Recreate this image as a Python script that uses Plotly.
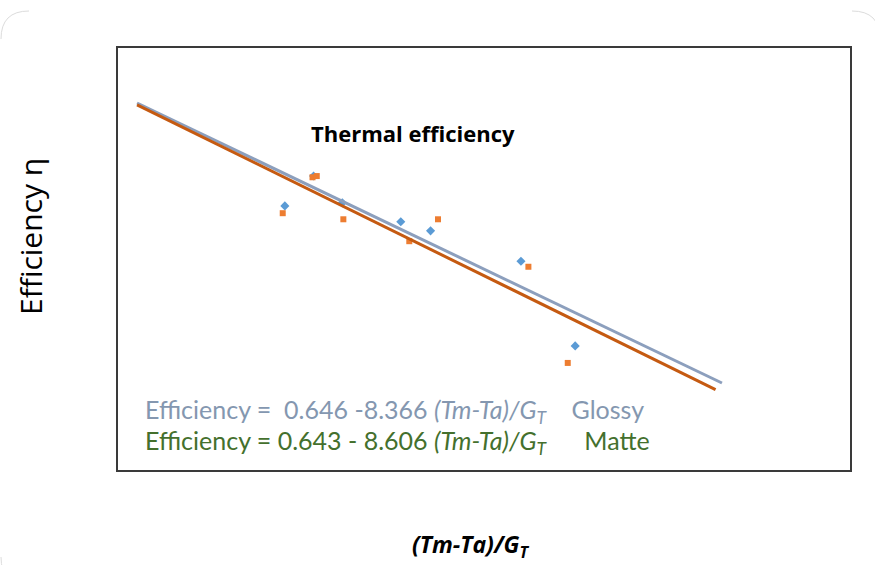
import plotly.graph_objects as go

# ---- data ----
glossy_x = [0.0139, 0.0166, 0.0193, 0.0248, 0.0276, 0.0361, 0.0412]
glossy_eff = [0.477, 0.526, 0.482, 0.451, 0.436, 0.386, 0.247]

matte_x = [0.0137, 0.0165, 0.0169, 0.0194, 0.0256, 0.0283, 0.0368, 0.0405]
matte_eff = [0.465, 0.524, 0.526, 0.455, 0.419, 0.455, 0.377, 0.219]

glossy_line_x = [0.0, 0.0550]
glossy_line_eff = [0.646, 0.186]
matte_line_x = [0.0, 0.0544]
matte_line_eff = [0.643, 0.175]

x_range = [-0.00179, 0.06704]
y_range = [0.0431, 0.7364]

W, H = 875, 565
L, R, T, B = 118, 850, 48, 470


def px(x):
    return (x - L) / (R - L)


def py(y):
    return (B - y) / (B - T)


fig = go.Figure()
fig.add_trace(go.Scatter(x=glossy_x, y=glossy_eff, mode="markers", name="Glossy",
                         marker=dict(symbol="diamond", size=7, color="#5B9BD5")))
fig.add_trace(go.Scatter(x=matte_x, y=matte_eff, mode="markers", name="Matte",
                         marker=dict(symbol="square", size=6, color="#ED7D31")))
fig.add_trace(go.Scatter(x=glossy_line_x, y=glossy_line_eff, mode="lines", name="Glossy fit",
                         line=dict(color="#8C9FBD", width=3)))
fig.add_trace(go.Scatter(x=matte_line_x, y=matte_line_eff, mode="lines", name="Matte fit",
                         line=dict(color="#C55A11", width=3)))

axis_common = dict(showgrid=False, zeroline=False, showticklabels=False, ticks="",
                   showline=True, linecolor="#3a3a3a", linewidth=1.5, mirror=True)
fig.update_xaxes(range=x_range, **axis_common)
fig.update_yaxes(range=y_range, **axis_common)

annotations = [
    dict(text="<b>Thermal efficiency</b>", x=px(413), y=py(133), xref="paper", yref="paper",
         showarrow=False, font=dict(family="Open Sans", size=22, color="#000000"),
         xanchor="center", yanchor="middle"),
    dict(text="Efficiency =\u00a0 0.646 -8.366 <i>(Tm-Ta)/G</i><sub><i>T</i></sub>\u00a0\u00a0\u00a0\u00a0Glossy",
         x=px(143), y=py(411), xref="paper", yref="paper", showarrow=False,
         font=dict(family="Lato", size=25, color="#8497B0"), xanchor="left", yanchor="middle"),
    dict(text="Efficiency = 0.643 - 8.606 <i>(Tm-Ta)/G</i><sub><i>T</i></sub>\u00a0\u00a0\u00a0\u00a0\u00a0\u00a0Matte",
         x=px(143), y=py(442), xref="paper", yref="paper", showarrow=False,
         font=dict(family="Lato", size=25, color="#44702D"), xanchor="left", yanchor="middle"),
    dict(text="Efficiency η", x=px(30), y=py(237), xref="paper", yref="paper", showarrow=False,
         textangle=-90, font=dict(family="Open Sans", size=30, color="#000000"),
         xanchor="center", yanchor="middle"),
    dict(text="<b><i>(Tm-Ta)/G</i></b><sub><b><i>T</i></b></sub>", x=px(470), y=py(545),
         xref="paper", yref="paper", showarrow=False,
         font=dict(family="Open Sans", size=23, color="#000000"),
         xanchor="center", yanchor="middle"),
]

# faint rounded corners of the outer frame
r = 28
x0, x1, y0, y1 = 1, 880, 11, 585
corner_paths = [
    f"M {px(x0)},{py(y0 + r)} Q {px(x0)},{py(y0)} {px(x0 + r)},{py(y0)}",
    f"M {px(x1 - r)},{py(y0)} Q {px(x1)},{py(y0)} {px(x1)},{py(y0 + r)}",
    f"M {px(x0 + r)},{py(y1)} Q {px(x0)},{py(y1)} {px(x0)},{py(y1 - r)}",
]
shapes = [dict(type="path", path=p, xref="paper", yref="paper",
               line=dict(color="#dcdcdc", width=1), layer="below") for p in corner_paths]

fig.update_layout(
    width=W, height=H,
    margin=dict(l=L, r=W - R, t=T, b=H - B),
    paper_bgcolor="white", plot_bgcolor="white",
    showlegend=False,
    annotations=annotations,
    shapes=shapes,
)

fig.write_html("out.html")
